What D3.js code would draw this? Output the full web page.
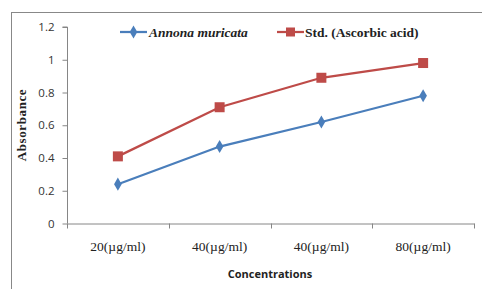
<!DOCTYPE html>
<html><head><meta charset="utf-8">
<script src="https://cdn.jsdelivr.net/npm/d3@7"></script>
<style>body{margin:0;background:#fff}svg{display:block}</style>
</head><body>
<script>
const categories = ["20(µg/ml)", "40(µg/ml)", "40(µg/ml)", "80(µg/ml)"];
const annona = [0.24, 0.47, 0.62, 0.78];
const ascorbic = [0.41, 0.71, 0.89, 0.98];
const yTicks = [0, 0.2, 0.4, 0.6, 0.8, 1, 1.2];
const seriesNames = ["Annona muricata", "Std. (Ascorbic acid)"];

const W = 482, H = 289;
const svg = d3.select("body").append("svg").attr("width", W).attr("height", H);
svg.append("rect").attr("x", 11.5).attr("y", 12.5).attr("width", 480).attr("height", 290)
  .attr("fill", "#fff").attr("stroke", "#888").attr("stroke-width", 1);

const x = d3.scaleBand().domain(d3.range(categories.length)).range([67, 474]);
const y = d3.scaleLinear().domain([0, 1.2]).range([223.5, 27]);

const yAxis = svg.append("g").attr("transform", "translate(67.5,0)")
  .call(d3.axisLeft(y).tickValues(yTicks).tickFormat(d => d3.format("")(+d.toFixed(1))).tickSize(5).tickPadding(8));
yAxis.select(".domain").attr("stroke", "#868686").attr("d", `M-5,${y(1.2)}H0V${y(0)}`);
yAxis.selectAll(".tick line").attr("stroke", "#868686");
yAxis.selectAll("text").attr("font-family", "'Open Sans', sans-serif").attr("font-size", 11.5).attr("fill", "#333");

const xAxis = svg.append("g").attr("transform", `translate(0,${y(0)})`)
  .call(d3.axisBottom(x).tickFormat(i => categories[i]).tickSize(0).tickPadding(18));
xAxis.select(".domain").attr("stroke", "#868686");
xAxis.selectAll("text").attr("font-family", "'Liberation Serif', serif").attr("font-size", 13.5).attr("fill", "#222");
const edges = categories.map((c, i) => x(i)).concat([x.range()[1]]);
svg.append("g").selectAll("line").data(edges).join("line")
  .attr("x1", d => Math.round(d) + 0.5).attr("x2", d => Math.round(d) + 0.5)
  .attr("y1", y(0)).attr("y2", y(0) + 5).attr("stroke", "#868686");

svg.append("text").attr("x", 270).attr("y", 278).attr("text-anchor", "middle")
  .attr("font-family", "'Open Sans', sans-serif").attr("font-weight", "bold").attr("font-size", 11)
  .attr("fill", "#222").text("Concentrations");
svg.append("text").attr("transform", "translate(26,125) rotate(-90)").attr("text-anchor", "middle")
  .attr("font-family", "'Liberation Serif', serif").attr("font-weight", "bold").attr("font-size", 13)
  .attr("letter-spacing", 0.6).attr("fill", "#222").text("Absorbance");

const cx = i => x(i) + x.bandwidth() / 2;
const line = d3.line().x((d, i) => cx(i)).y(d => y(d));
const blue = "#4a7ebb", red = "#be4b48";

svg.append("path").datum(annona).attr("d", line).attr("fill", "none").attr("stroke", blue).attr("stroke-width", 2.25);
svg.append("path").datum(ascorbic).attr("d", line).attr("fill", "none").attr("stroke", red).attr("stroke-width", 2.25);

const diamond = d3.symbol().type(d3.symbolDiamond).size(50);
svg.append("g").selectAll("path").data(annona).join("path")
  .attr("transform", (d, i) => `translate(${cx(i)},${y(d)})`).attr("d", diamond).attr("fill", blue);
svg.append("g").selectAll("rect").data(ascorbic).join("rect")
  .attr("x", (d, i) => cx(i) - 5).attr("y", d => y(d) - 5).attr("width", 10).attr("height", 10).attr("fill", red);

// legend
const lg = svg.append("g");
lg.append("line").attr("x1", 120).attr("x2", 147).attr("y1", 32).attr("y2", 32).attr("stroke", blue).attr("stroke-width", 2.25);
lg.append("path").attr("transform", "translate(133.5,32)").attr("d", diamond).attr("fill", blue);
lg.append("text").attr("x", 149).attr("y", 36.5).attr("font-family", "'Liberation Serif', serif")
  .attr("font-style", "italic").attr("font-weight", "bold").attr("font-size", 13.5).attr("fill", "#222").text(seriesNames[0]);
lg.append("line").attr("x1", 277).attr("x2", 304).attr("y1", 32).attr("y2", 32).attr("stroke", red).attr("stroke-width", 2.25);
lg.append("rect").attr("x", 286).attr("y", 27.5).attr("width", 9).attr("height", 9).attr("fill", red);
lg.append("text").attr("x", 305).attr("y", 36.5).attr("font-family", "'Liberation Serif', serif")
  .attr("font-weight", "bold").attr("font-size", 13.5).attr("fill", "#222").text(seriesNames[1]);
</script>
</body></html>
